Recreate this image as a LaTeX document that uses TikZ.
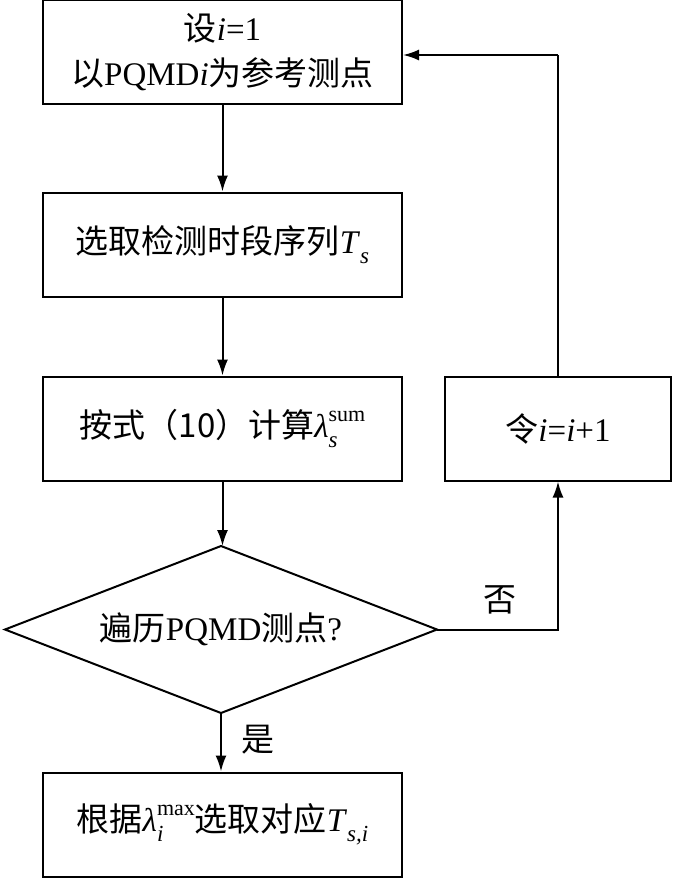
\documentclass[tikz,border=0pt]{standalone}
\usepackage{fontspec}
\setmainfont{Liberation Serif}
\newfontfamily\cjk{Noto Sans CJK SC}
\usetikzlibrary{arrows.meta}
\newcommand{\zh}[1]{{\cjk #1}}
\newcommand{\mysb}[1]{\raisebox{-0.3em}{\fontsize{23}{23}\selectfont\itshape #1}}
\newcommand{\mysp}[1]{\raisebox{0.5em}{\fontsize{22}{22}\selectfont #1}}
\begin{document}
\begin{tikzpicture}[x=1pt,y=1pt,
  every node/.style={font=\fontsize{33}{45}\selectfont},
  box/.style={draw,line width=2pt,minimum width=359pt,minimum height=104pt,inner sep=0pt,align=center},
  lbl/.style={inner sep=0pt},
  conn/.style={line width=2pt,-{Latex[length=16pt,width=11pt]}},
  plain/.style={line width=2pt}]
\useasboundingbox (0,0) rectangle (673,-884);
\node[box] (b1) at (222.5,-52) {\zh{设}\textit{i}=1\\\zh{以}PQMD\textit{i}\zh{为参考测点}};
\node[box] (b2) at (222.5,-244.5) {\zh{选取检测时段序列}\textit{T}\mysb{s}};
\node[box] (b3) at (222.5,-428.5) {\zh{按式（10）计算}\textit{λ}\rlap{\mysb{s}}\mysp{sum}};
\coordinate (dt) at (221,-546);
\coordinate (dr) at (437,-629.5);
\coordinate (db) at (221,-713);
\coordinate (dl) at (5,-629.5);
\draw[plain,line join=miter] (dt) -- (dr) -- (db) -- (dl) -- cycle;
\node[lbl] (d) at (221,-629.5) {\zh{遍历}PQMD\zh{测点}?};
\node[box] (b4) at (222.5,-824.5) {\zh{根据}\textit{λ}\rlap{\mysb{i}}\mysp{max}\zh{选取对应}\textit{T}\mysb{s,i}};
\node[box,minimum width=226pt] (b5) at (558,-428.5) {\zh{令}\textit{i}=\textit{i}+1};
\coordinate (c1) at (558,-629.5);
\coordinate (c2) at (558,-55);
\draw[conn] (b1.south) -- (b2.north);
\draw[conn] (b2.south) -- (b3.north);
\draw[conn] (b3.south) -- (b3.south |- dt);
\draw[conn] (db) -- (db |- b4.north);
\draw[conn] (dr) -- (c1) -- (b5.south);
\draw[plain] (b5.north) -- (c2);
\draw[conn] (c2) -- (c2 -| b1.east);
\node[lbl] (no) at (500,-600) {\zh{否}};
\node[lbl] (yes) at (258,-740) {\zh{是}};
\end{tikzpicture}
\end{document}
